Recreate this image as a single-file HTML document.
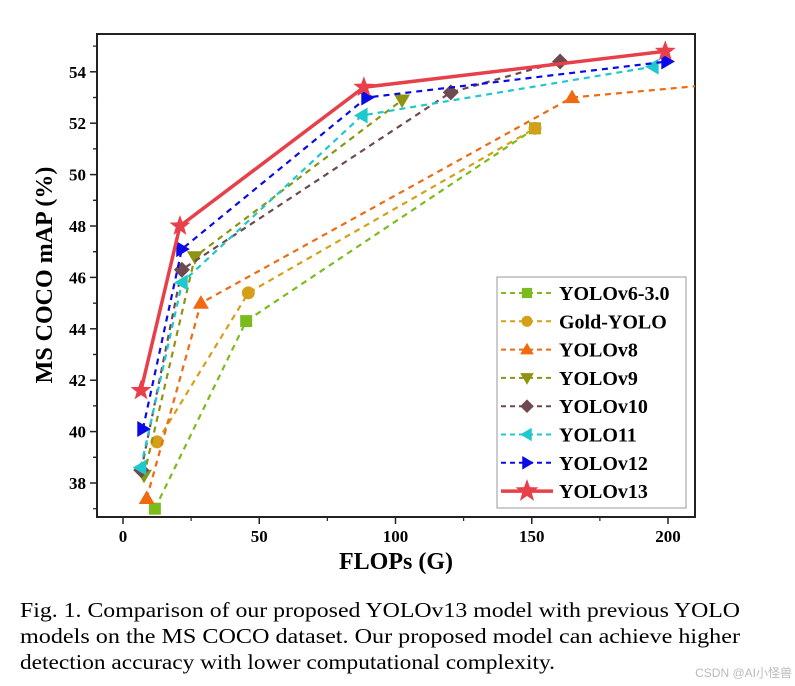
<!DOCTYPE html>
<html><head><meta charset="utf-8"><style>
body{margin:0;background:#fff}
svg{display:block}
text{font-family:"Liberation Serif",serif}
</style></head><body>
<svg id="chart" width="795" height="686" viewBox="0 0 795 686" xmlns="http://www.w3.org/2000/svg">
<defs><clipPath id="plotclip"><rect x="97" y="34" width="598" height="483"/></clipPath></defs>
<rect x="97" y="34" width="598" height="483" fill="#fff" stroke="#222" stroke-width="2"/>
<g id="axes"></g>
<g id="series" clip-path="url(#plotclip)"></g>
<g id="legend"></g>
<text x="396" y="569" text-anchor="middle" font-size="24" font-weight="bold">FLOPs (G)</text>
<text transform="translate(52,275) rotate(-90)" text-anchor="middle" font-size="24" font-weight="bold">MS COCO mAP (%)</text>
<g font-size="21">
<text x="20" y="617" textLength="720" lengthAdjust="spacingAndGlyphs">Fig. 1.  Comparison of our proposed YOLOv13 model with previous YOLO</text>
<text x="20" y="643" textLength="720" lengthAdjust="spacingAndGlyphs">models on the MS COCO dataset. Our proposed model can achieve higher</text>
<text x="20" y="669" textLength="535" lengthAdjust="spacingAndGlyphs">detection accuracy with lower computational complexity.</text>
</g>
<text x="792" y="677" text-anchor="end" font-size="12" fill="#bbb" style="font-family:'Liberation Sans','Noto Sans CJK SC',sans-serif">CSDN @AI小怪兽</text>
</svg>
<script>
const xTicks=[0,50,100,150,200];
const yTicks=[38,40,42,44,46,48,50,52,54];
const seriesNames=["YOLOv6-3.0","Gold-YOLO","YOLOv8","YOLOv9","YOLOv10","YOLO11","YOLOv12","YOLOv13"];
const flopsV6=[11.7,45.2,151.2]; const mapV6=[37.0,44.3,51.8];
const flopsGold=[12.5,46.0,151.2]; const mapGold=[39.6,45.4,51.8];
const flopsV8=[8.7,28.6,164.8,257.8]; const mapV8=[37.4,45.0,53.0,53.9];
const flopsV9=[7.7,26.4,102.4]; const mapV9=[38.3,46.8,52.9];
const flopsV10=[6.7,21.6,120.3,160.4]; const mapV10=[38.5,46.3,53.2,54.4];
const flops11=[6.5,21.7,87.7,194.5]; const map11=[38.6,45.8,52.3,54.2];
const flopsV12=[7.3,21.6,89.5,199.6]; const mapV12=[40.1,47.1,53.0,54.4];
const flopsV13=[6.6,20.9,88.4,199.0]; const mapV13=[41.6,48.0,53.4,54.8];

const NS="http://www.w3.org/2000/svg";
const X=v=>123+v*2.725, Y=v=>483-(v-38)*25.7;
function mk(tag,attrs,parent){const e=document.createElementNS(NS,tag);for(const k in attrs)e.setAttribute(k,attrs[k]);parent.appendChild(e);return e;}
const axes=document.getElementById('axes');
xTicks.forEach(t=>{
  const l=mk('line',{x1:X(t),x2:X(t),y1:517,y2:524,stroke:'#222','stroke-width':1.5},axes);
  
  
  if(X(t+25)<695){
  const m=mk('line',{x1:X(t+25),x2:X(t+25),y1:517,y2:521,stroke:'#222','stroke-width':1.2},axes);
  
  }
  const tx=mk('text',{x:X(t),y:542,'text-anchor':'middle','font-size':17,'font-weight':'bold'},axes);
  tx.textContent=t;
  
  
});
yTicks.forEach(t=>{
  const l=mk('line',{x1:90,x2:97,y1:Y(t),y2:Y(t),stroke:'#222','stroke-width':1.5},axes);
  
  
  [t-1,t+1].forEach(m=>{const ml=mk('line',{x1:93,x2:97,y1:Y(m),y2:Y(m),stroke:'#222','stroke-width':1.2},axes);
  
  });
  const tx=mk('text',{x:86,y:Y(t)+6,'text-anchor':'end','font-size':17,'font-weight':'bold'},axes);
  tx.textContent=t;
  
  
});
const styles=[
 {c:'#7cbb1e',m:'square',fx:flopsV6,my:mapV6},
 {c:'#d4a017',m:'circle',fx:flopsGold,my:mapGold},
 {c:'#f06a10',m:'up',fx:flopsV8,my:mapV8},
 {c:'#8c9410',m:'down',fx:flopsV9,my:mapV9},
 {c:'#6e4a4e',m:'diamond',fx:flopsV10,my:mapV10},
 {c:'#1ec8cc',m:'left',fx:flops11,my:map11},
 {c:'#0a0ae8',m:'right',fx:flopsV12,my:mapV12},
 {c:'#e8404a',m:'star',fx:flopsV13,my:mapV13}
];
function marker(kind,x,y,c,p,s){
  s=s||1;let e;
  if(kind==='square')e=mk('rect',{x:x-6*s,y:y-6*s,width:12*s,height:12*s,fill:c},p);
  else if(kind==='circle')e=mk('circle',{cx:x,cy:y,r:6.5*s,fill:c},p);
  else{let pts;const r=8*s;
    if(kind==='up')pts=[[0,-r],[r,r*0.7],[-r,r*0.7]];
    if(kind==='down')pts=[[0,r],[r,-r*0.7],[-r,-r*0.7]];
    if(kind==='left')pts=[[-r,0],[r*0.7,-r],[r*0.7,r]];
    if(kind==='right')pts=[[r,0],[-r*0.7,-r],[-r*0.7,r]];
    if(kind==='diamond')pts=[[0,-r],[r,0],[0,r],[-r,0]];
    if(kind==='star'){pts=[];for(let i=0;i<10;i++){const a=-Math.PI/2+i*Math.PI/5,rr=i%2?4.5*s:11*s;pts.push([rr*Math.cos(a),rr*Math.sin(a)]);}}
    e=mk('polygon',{points:pts.map(q=>(x+q[0])+','+(y+q[1])).join(' '),fill:c},p);}
  return e;
}
const sg=document.getElementById('series');
styles.forEach((st,i)=>{
  const g=mk('g',{},sg);
  
  
  const star=st.m==='star';
  const pl=mk('polyline',{points:st.fx.map((v,j)=>X(v)+','+Y(st.my[j])).join(' '),fill:'none',stroke:st.c,'stroke-width':star?3.5:2.2,'stroke-dasharray':star?'none':'6,5'},g);
  
  
  st.fx.forEach((v,j)=>{const m=marker(st.m,X(v),Y(st.my[j]),st.c,g);
    
    });
});
const lg=document.getElementById('legend');
const box=mk('rect',{x:497,y:277,width:189,height:231,fill:'#fff',stroke:'#999','stroke-width':1},lg);


styles.forEach((st,i)=>{
  const y=293+i*28.3;
  const g=mk('g',{},lg);
  
  
  const star=st.m==='star';
  mk('line',{x1:501,x2:553,y1:y,y2:y,stroke:st.c,'stroke-width':star?3.5:2,'stroke-dasharray':star?'none':'5,4'},g);
  marker(st.m,527,y,st.c,g,star?1.1:0.85);
  const t=mk('text',{x:559,y:y+7,'font-size':20,'font-weight':'bold'},g);
  t.textContent=seriesNames[i];
});
</script>
</body></html>
